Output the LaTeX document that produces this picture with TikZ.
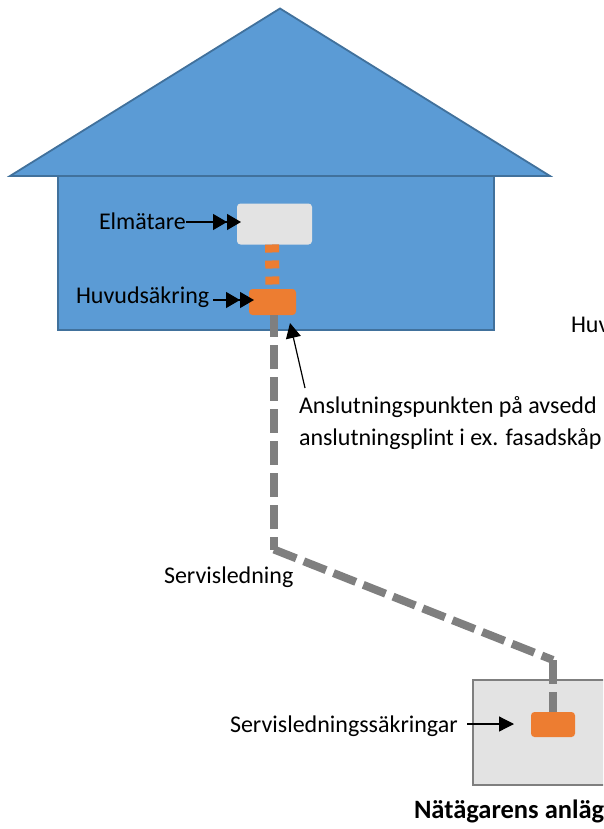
\documentclass[tikz,border=0pt]{standalone}
\usepackage{fontspec}
\setmainfont{Carlito}
\usetikzlibrary{arrows.meta,calc}
\definecolor{blueF}{HTML}{5B9BD5}
\definecolor{blueD}{HTML}{41719C}
\definecolor{orangeF}{HTML}{ED7D31}
\definecolor{greyL}{HTML}{7F7F7F}
\definecolor{greyF}{HTML}{E3E3E3}
\tikzset{
  house/.style={draw=blueD,fill=blueF,line width=1.8pt,line join=miter},
  devbox/.style={rectangle,rounded corners=3.5pt,inner sep=0pt,outer sep=0pt},
  lbl/.style={inner sep=0pt,outer sep=0pt,anchor=base west,font=\fontsize{24}{28}\selectfont},
  ptr/.style={-{Triangle[length=15pt,width=15pt]},line width=1.2pt,black},
  ptrtwo/.style={-{Triangle[length=14pt,width=16pt]Triangle[length=14pt,width=16pt,sep=-8pt]},line width=1.2pt,black},
  serv/.style={draw=greyL,line width=8pt,dash pattern=on 24pt off 8pt},
  link/.style={draw=orangeF,line width=14pt,dash pattern=on 8pt off 8pt}
}
\begin{document}
\begin{tikzpicture}[x=1pt,y=-1pt]
\useasboundingbox (0,0) rectangle (603,829);
\clip (0,0) rectangle (603,829);
% house
\draw[house] (58,176) rectangle (494,330);
\draw[house] (10,176) -- (280,8.5) -- (550,176) -- cycle;
% substation
\draw[draw=greyL,fill=greyF,line width=2pt] (472.5,679.5) rectangle (640,785);
% devices
\node[devbox,fill=greyF,minimum width=75pt,minimum height=41pt] (meter) at (274.5,224) {};
\node[devbox,fill=orangeF,minimum width=47pt,minimum height=26pt] (mainfuse) at (272.5,302) {};
\node[devbox,fill=orangeF,minimum width=44pt,minimum height=25pt] (subfuse) at (553,724.5) {};
% labels
\node[lbl] (elm) at (99,229) {Elmätare};
\node[lbl] (huv) at (76,303) {Huvudsäkring};
\node[lbl] (huvcut) at (571,332) {Huv};
\node[lbl] (ansl) at (299,413) {Anslutningspunkten på avsedd};
\node[lbl] (plint) at (299,445) {anslutningsplint i ex. fasadskåp};
\node[lbl] (serv) at (164,583) {Servisledning};
\node[lbl] (ssak) at (230,732) {Servisledningssäkringar};
\node[lbl,font=\fontsize{26.5}{30}\selectfont\bfseries] (nat) at (414,818) {Nätägarens anläg};
% connectors
\coordinate (bendA) at (274,549.5);
\coordinate (bendB) at (553,660);
\coordinate (anslTip) at (290,323);
\coordinate (anslFoot) at (305,388);
\coordinate (subArrow) at (514,724);
\draw[link] (meter.south -| 272,0) -- (mainfuse.north);
\draw[serv,dash phase=2pt] ([xshift=1.5pt]mainfuse.south) -- (bendA);
\draw[serv] (bendA) -- (bendB);
\draw[serv] (bendB) -- (subfuse.north);
\draw[ptrtwo] (elm.east |- 0,222) -- (233,222);
\draw[ptrtwo] (213,300) -- (246,300);
\draw[ptr] (467,724) -- (subArrow);
\draw[ptr] (anslFoot) -- (anslTip);
\end{tikzpicture}
\end{document}
